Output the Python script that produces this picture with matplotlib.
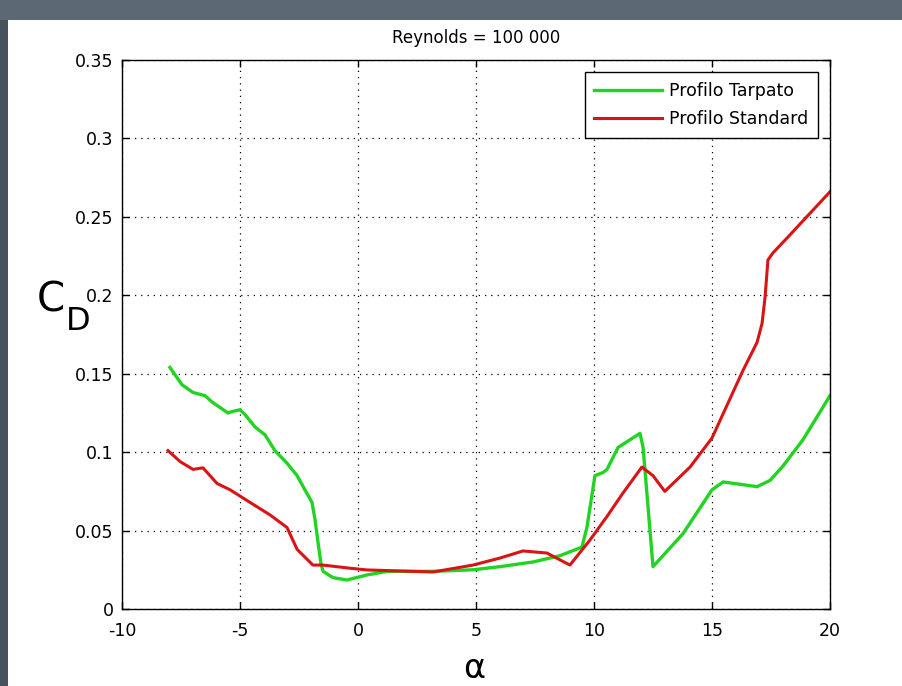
import matplotlib
matplotlib.use("Agg")
import matplotlib.pyplot as plt
from matplotlib.patches import Rectangle

# Data
alpha_tarpato = [-7.97, -7.46, -6.99, -6.48, -6.19, -5.51, -5.30, -5.0, -4.79, -4.36, -3.94, -3.52,
                 -3.01, -2.58, -2.25, -1.95, -1.82, -1.69, -1.57, -1.48, -1.06, -0.47, 0.38, 1.23,
                 3.18, 4.87, 6.02, 7.42, 8.56, 9.41, 9.49, 9.70, 10.04, 10.38, 10.55, 11.02, 11.95,
                 12.08, 12.5, 13.77, 15.0, 15.47, 16.91, 17.46, 18.0, 18.86, 20.0]
cd_tarpato = [0.154, 0.143, 0.138, 0.136, 0.132, 0.125, 0.126, 0.127, 0.124, 0.116, 0.111, 0.101,
              0.093, 0.085, 0.076, 0.068, 0.057, 0.042, 0.029, 0.024, 0.020, 0.0185, 0.0217, 0.024,
              0.024, 0.025, 0.027, 0.030, 0.034, 0.039, 0.0395, 0.052, 0.085, 0.087, 0.089, 0.103, 0.112,
              0.103, 0.027, 0.048, 0.076, 0.081, 0.078, 0.082, 0.091, 0.108, 0.136]

alpha_standard = [-8.05, -7.54, -6.99, -6.57, -5.97, -5.42, -4.58, -3.73, -3.01, -2.58, -1.91, -1.48,
                  -0.34, 0.38, 3.18, 4.87, 6.02, 6.99, 8.0, 8.98, 9.83, 10.55, 11.23, 12.03, 12.5,
                  13.0, 14.07, 15.0, 16.31, 16.91, 17.12, 17.25, 17.37, 17.58, 18.18, 20.0]
cd_standard = [0.101, 0.094, 0.089, 0.090, 0.080, 0.076, 0.068, 0.060, 0.052, 0.038, 0.028, 0.028,
               0.026, 0.0249, 0.0236, 0.028, 0.0325, 0.037, 0.0357, 0.028, 0.044, 0.059, 0.074, 0.0905, 0.085,
               0.075, 0.0905, 0.109, 0.152, 0.170, 0.182, 0.199, 0.2225, 0.227, 0.2365, 0.266]

x_ticks = [-10, -5, 0, 5, 10, 15, 20]
y_ticks = [0, 0.05, 0.1, 0.15, 0.2, 0.25, 0.3, 0.35]
y_tick_labels = ["0", "0.05", "0.1", "0.15", "0.2", "0.25", "0.3", "0.35"]
series_labels = ["Profilo Tarpato", "Profilo Standard"]
title = "Reynolds = 100 000"

W, H = 902, 686
fig = plt.figure(figsize=(W / 100, H / 100), dpi=100)
fig.patch.set_facecolor("#46525e")
# white inner page (dark strip top and left like reference)
fig.patches.append(Rectangle((8 / W, 0), 1 - 8 / W, 1 - 20 / H, transform=fig.transFigure,
                             facecolor="white", edgecolor="none", zorder=-10))
fig.patches.append(Rectangle((0, 1 - 20 / H), 1, 20 / H, transform=fig.transFigure,
                             facecolor="#5c6873", edgecolor="none", zorder=-10))

ax = fig.add_axes([122 / W, 1 - 609 / H, (830 - 122) / W, (609 - 60) / H])
ax.set_zorder(5)
ax.plot(alpha_tarpato, cd_tarpato, color="#22d422", lw=2.4, label=series_labels[0])
ax.plot(alpha_standard, cd_standard, color="#d81414", lw=2.2, label=series_labels[1])

ax.set_xlim(-10, 20)
ax.set_ylim(0, 0.35)
ax.set_xticks(x_ticks)
ax.set_xticklabels([str(t) for t in x_ticks])
ax.set_yticks(y_ticks)
ax.set_yticklabels(y_tick_labels)
ax.tick_params(direction="in", top=True, right=True, length=5, width=1, labelsize=12.5,
               colors="black", pad=6)
ax.tick_params(axis="x", pad=9)
ax.grid(True, linestyle=(0, (1, 4)), color="black", linewidth=0.9)
for s in ax.spines.values():
    s.set_linewidth(1.0)
    s.set_color("black")

ax.set_title(title, fontsize=12, pad=12)
fig.text(474 / W, 1 - 668 / H, "α", fontsize=24, ha="center", va="center")
fig.text(37 / W, 1 - 312 / H, "C", fontsize=29, ha="left", va="baseline")
fig.text(66 / W, 1 - 330 / H, "D", fontsize=23, ha="left", va="baseline")

leg = ax.legend(loc="upper right", fontsize=12.5, fancybox=False, edgecolor="black",
                framealpha=1, borderaxespad=0.7, handlelength=3.9, handletextpad=0.4,
                labelspacing=0.6, borderpad=0.55)
leg.get_frame().set_linewidth(1.0)

fig.savefig("out.png", dpi=100, facecolor=fig.get_facecolor())
